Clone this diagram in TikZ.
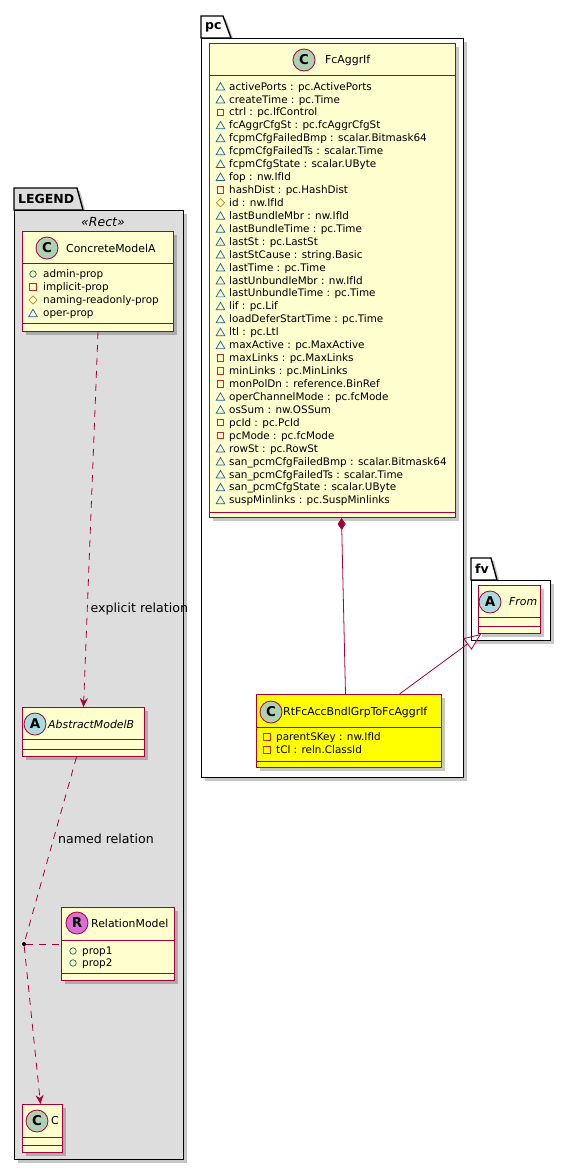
\documentclass[tikz,border=0pt]{standalone}
\usepackage{fontspec}
\setmainfont{DejaVu Sans}
\usetikzlibrary{arrows.meta,shapes.geometric,shadows}

\definecolor{bordo}{HTML}{A80036}
\definecolor{crema}{HTML}{FEFECE}
\definecolor{giallo}{HTML}{FFFF00}
\definecolor{grigio}{HTML}{DDDDDD}
\definecolor{verdeC}{HTML}{ADD1B2}
\definecolor{azzurroA}{HTML}{A9DCDF}
\definecolor{violaR}{HTML}{DA70D6}
\definecolor{vprivato}{HTML}{C82930}
\definecolor{vprotetto}{HTML}{B38D22}
\definecolor{vpacchetto}{HTML}{1963A0}
\definecolor{vpubblico}{HTML}{038048}

\begin{document}
\begin{tikzpicture}[
    x=1pt,y=-1pt,
    font=\fontsize{10.4}{12}\selectfont,
    ombra/.style={drop shadow={shadow xshift=3pt,shadow yshift=-3pt,
                  fill=black,opacity=.22}},
    pacco/.style={draw=black,line width=1.4pt,ombra},
    nomepacco/.style={anchor=west,inner sep=0pt,
                 font=\fontsize{12.5}{14}\selectfont\bfseries},
    classe/.style={rectangle,draw=bordo,line width=1pt,fill=crema,ombra,
                 anchor=north west,inner sep=0pt},
    riga/.style={draw=bordo,line width=1pt},
    spot/.style={circle,draw=bordo,line width=.8pt,minimum size=22pt,
                 inner sep=0pt,font=\fontsize{13.5}{13.5}\selectfont\bfseries},
    titolo/.style={anchor=west,inner sep=0pt,
                 font=\fontsize{10.9}{13}\selectfont},
    attr/.style={anchor=west,inner sep=0pt,text height=7.6pt,text depth=0pt},
    vpub/.style={circle,draw=vpubblico,line width=.7pt,
                 minimum size=6.5pt,inner sep=0pt},
    vpriv/.style={rectangle,draw=vprivato,line width=.7pt,
                 minimum size=6.5pt,inner sep=0pt},
    vprot/.style={diamond,draw=vprotetto,line width=.7pt,
                 minimum size=8.5pt,inner sep=0pt},
    vpack/.style={regular polygon,regular polygon sides=3,draw=vpacchetto,
                 line width=.7pt,minimum size=10pt,inner sep=0pt,yshift=-1.2pt},
    legame/.style={draw=bordo,line width=.8pt},
    tratteggio/.style={legame,dash pattern=on 7pt off 6pt},
    freccia/.style={-{Stealth[length=9pt,width=8pt,inset=3pt]}},
    punto/.style={circle,fill=black,inner sep=0pt,minimum size=4pt},
    etichetta/.style={anchor=west,inner sep=0pt,
                 font=\fontsize{12.6}{14}\selectfont}]

  \fill[white] (0,0) rectangle (570,1171);
  \useasboundingbox (0,0) rectangle (570,1171);

  % ---- pacchetti -----------------------------------------------------------
  \draw[pacco,fill=grigio] (14,210) -- (14,188) -- (77,188) -- (83,210) -- cycle;
  \node[pacco,fill=grigio,anchor=north west,inner sep=0pt,
        minimum width=169pt,minimum height=949pt] (legenda) at (14,210) {};
  \node[nomepacco] (legendanome) at (18,199) {LEGEND};
  \node[inner sep=0pt,font=\fontsize{12.5}{14}\selectfont\itshape]
        (stereotipo) at (103,222) {«Rect»};

  \draw[pacco,fill=white] (201,38) -- (201,16) -- (223,16) -- (231,38) -- cycle;
  \node[pacco,fill=white,anchor=north west,inner sep=0pt,
        minimum width=262pt,minimum height=739pt] (pc) at (201,38) {};
  \node[nomepacco] (pcnome) at (205,27) {pc};

  \draw[pacco,fill=white] (471,580) -- (471,558) -- (491,558) -- (497,580) -- cycle;
  \node[pacco,fill=white,anchor=north west,inner sep=0pt,
        minimum width=79pt,minimum height=60pt] (fv) at (471,580) {};
  \node[nomepacco] (fvnome) at (475,569) {fv};

  % ---- classe FcAggrIf -----------------------------------------------------
  \node[classe,minimum width=246pt,minimum height=474pt] (fc) at (209,43) {};
  \draw[riga] ([yshift=-32pt]fc.north west) -- ([yshift=-32pt]fc.north east);
  \draw[riga] ([yshift=6pt]fc.south west) -- ([yshift=6pt]fc.south east);
  \node[spot,fill=verdeC] (fcspot) at (304,60) {C};
  \node[titolo] (fcnome) at (325,60) {FcAggrIf};
  \foreach \vis/\testo [count=\i from 0] in {
      vpack/activePorts : pc.ActivePorts,
      vpack/createTime : pc.Time,
      vpriv/ctrl : pc.IfControl,
      vpack/fcAggrCfgSt : pc.fcAggrCfgSt,
      vpack/fcpmCfgFailedBmp : scalar.Bitmask64,
      vpack/fcpmCfgFailedTs : scalar.Time,
      vpack/fcpmCfgState : scalar.UByte,
      vpack/fop : nw.IfId,
      vpriv/hashDist : pc.HashDist,
      vprot/id : nw.IfId,
      vpack/lastBundleMbr : nw.IfId,
      vpack/lastBundleTime : pc.Time,
      vpack/lastSt : pc.LastSt,
      vpack/lastStCause : string.Basic,
      vpack/lastTime : pc.Time,
      vpack/lastUnbundleMbr : nw.IfId,
      vpack/lastUnbundleTime : pc.Time,
      vpack/lif : pc.Lif,
      vpack/loadDeferStartTime : pc.Time,
      vpack/ltl : pc.Ltl,
      vpack/maxActive : pc.MaxActive,
      vpriv/maxLinks : pc.MaxLinks,
      vpriv/minLinks : pc.MinLinks,
      vpriv/monPolDn : reference.BinRef,
      vpack/operChannelMode : pc.fcMode,
      vpack/osSum : nw.OSSum,
      vpriv/pcId : pc.PcId,
      vpriv/pcMode : pc.fcMode,
      vpack/rowSt : pc.RowSt,
      vpack/san\_pcmCfgFailedBmp : scalar.Bitmask64,
      vpack/san\_pcmCfgFailedTs : scalar.Time,
      vpack/san\_pcmCfgState : scalar.UByte,
      vpack/suspMinlinks : pc.SuspMinlinks}{
    \node[\vis] (fcv\i) at (220.5,{86.3+12.93*\i}) {};
    \node[attr] (fca\i) at (229,{86.3+12.93*\i}) {\testo};
  }

  % ---- classe RtFcAccBndlGrpToFcAggrIf -------------------------------------
  \node[classe,fill=giallo,minimum width=185pt,minimum height=73pt] (rt) at (256,694) {};
  \draw[riga] ([yshift=-33pt]rt.north west) -- ([yshift=-33pt]rt.north east);
  \draw[riga] ([yshift=7pt]rt.south west) -- ([yshift=7pt]rt.south east);
  \node[spot,fill=verdeC] (rtspot) at (271,712) {C};
  \node[titolo] (rtnome) at (283,712) {RtFcAccBndlGrpToFcAggrIf};
  \node[vpriv] (rtv1) at (267,737) {};
  \node[attr]  (rta1) at (276,737) {parentSKey : nw.IfId};
  \node[vpriv] (rtv2) at (267,750) {};
  \node[attr]  (rta2) at (276,750) {tCl : reln.ClassId};

  % ---- classe From ---------------------------------------------------------
  \node[classe,minimum width=62pt,minimum height=48pt] (fr) at (478,585) {};
  \draw[riga] ([yshift=-32pt]fr.north west) -- ([yshift=-32pt]fr.north east);
  \draw[riga] ([yshift=8pt]fr.south west) -- ([yshift=8pt]fr.south east);
  \node[spot,fill=azzurroA] (frspot) at (490,602) {A};
  \node[titolo,font=\fontsize{10.9}{13}\selectfont\itshape] (frnome) at (509,602) {From};

  % ---- legenda: ConcreteModelA ---------------------------------------------
  \node[classe,minimum width=151pt,minimum height=100pt] (cm) at (22,231) {};
  \draw[riga] ([yshift=-32pt]cm.north west) -- ([yshift=-32pt]cm.north east);
  \draw[riga] ([yshift=9pt]cm.south west) -- ([yshift=9pt]cm.south east);
  \node[spot,fill=verdeC] (cmspot) at (47,248) {C};
  \node[titolo] (cmnome) at (66,248) {ConcreteModelA};
  \node[vpub]  (cmv1) at (33,274) {};
  \node[attr]  (cma1) at (43,274) {admin-prop};
  \node[vpriv] (cmv2) at (33,287) {};
  \node[attr]  (cma2) at (43,287) {implicit-prop};
  \node[vprot] (cmv3) at (33,300) {};
  \node[attr]  (cma3) at (43,300) {naming-readonly-prop};
  \node[vpack] (cmv4) at (33,313) {};
  \node[attr]  (cma4) at (43,313) {oper-prop};

  % ---- legenda: AbstractModelB ---------------------------------------------
  \node[classe,minimum width=122pt,minimum height=49pt] (am) at (22,707) {};
  \draw[riga] ([yshift=-32pt]am.north west) -- ([yshift=-32pt]am.north east);
  \draw[riga] ([yshift=8pt]am.south west) -- ([yshift=8pt]am.south east);
  \node[spot,fill=azzurroA] (amspot) at (35,724) {A};
  \node[titolo,font=\fontsize{10.9}{13}\selectfont\itshape] (amnome) at (48,724) {AbstractModelB};

  % ---- legenda: RelationModel ----------------------------------------------
  \node[classe,minimum width=113pt,minimum height=73pt] (rm) at (61,907) {};
  \draw[riga] ([yshift=-33pt]rm.north west) -- ([yshift=-33pt]rm.north east);
  \draw[riga] ([yshift=8pt]rm.south west) -- ([yshift=8pt]rm.south east);
  \node[spot,fill=violaR] (rmspot) at (77,923) {R};
  \node[titolo] (rmnome) at (91,923) {RelationModel};
  \node[vpub] (rmv1) at (73,951) {};
  \node[attr] (rma1) at (82,951) {prop1};
  \node[vpub] (rmv2) at (73,963) {};
  \node[attr] (rma2) at (82,963) {prop2};

  % ---- legenda: C ----------------------------------------------------------
  \node[classe,minimum width=40pt,minimum height=48pt] (cc) at (22,1104) {};
  \draw[riga] ([yshift=-33pt]cc.north west) -- ([yshift=-33pt]cc.north east);
  \draw[riga] ([yshift=8pt]cc.south west) -- ([yshift=8pt]cc.south east);
  \node[spot,fill=verdeC] (ccspot) at (37,1121) {C};
  \node[titolo] (ccnome) at (51,1121) {C};

  % ---- relazioni -----------------------------------------------------------
  \draw[legame,{Diamond[length=12pt,width=8pt]}-]
        ([xshift=9pt]fc.south) -- ([xshift=-3.5pt]rt.north);
  \draw[legame,-{Triangle[open,length=17pt,width=14pt]}]
        ([xshift=50.5pt]rt.north) -- ([xshift=3pt]fr.south west);

  \node[punto] (nodo) at (24,944) {};
  \draw[tratteggio,freccia] (cm.south) -- (am.north)
        node[etichetta,pos=.74,xshift=3pt] (relesp) {explicit relation};
  \draw[tratteggio] ([xshift=-7pt]am.south) -- (nodo)
        node[etichetta,pos=.44,xshift=4pt] (relnom) {named relation};
  \draw[tratteggio] (nodo) -- (rm.west);
  \draw[tratteggio,freccia] (nodo) -- ([xshift=-2pt]cc.north);

\end{tikzpicture}
\end{document}
